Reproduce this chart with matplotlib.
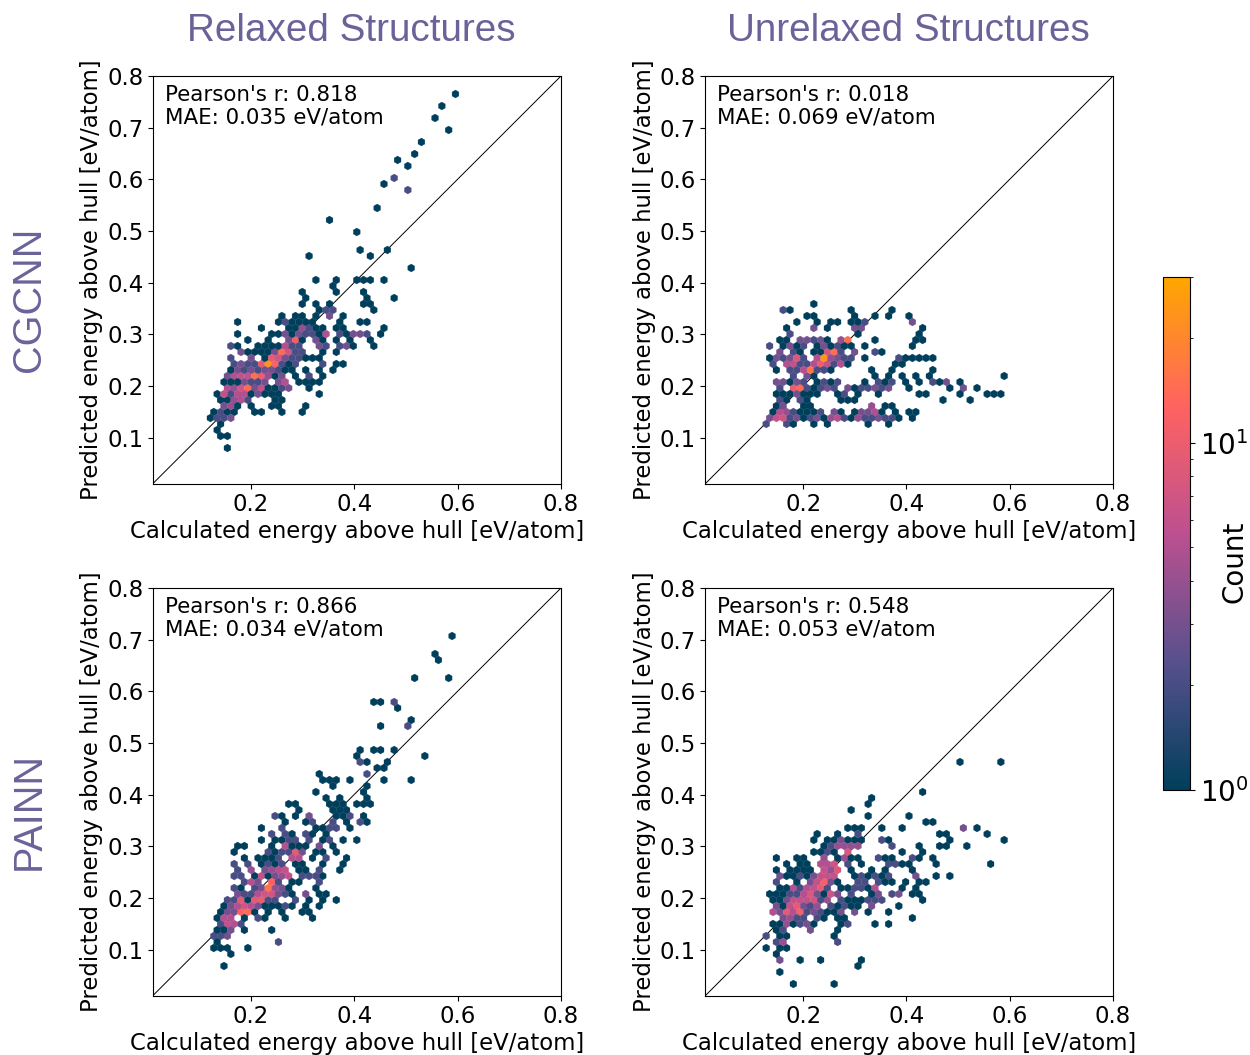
import matplotlib
matplotlib.use("Agg")
import matplotlib.pyplot as plt
import numpy as np
from matplotlib.colors import LinearSegmentedColormap, LogNorm

W, H = 1250, 1055

# hexbin cells, row by row: y of the row, x of the cells, count of the cells
cgcnn_rel_y = [.080, .103, .115, .126, .138, .149, .161, .173, .184, .196, .2075, .219, .231, .242, .254, .266, .277,
               .289, .300, .312, .324, .335, .347, .3585, .370, .382, .393, .405, .428, .4515, .463, .498, .521, .544,
               .579, .591, .603, .626, .637, .649, .672, .695, .719, .742, .765]
cgcnn_rel_x = [
    [.155], [.142, .155], [.135], [.142], [.122, .135, .148, .161],
    [.129, .142, .155, .168, .208, .221, .260, .300],
    [.148, .161, .175, .201, .240, .254, .306],
    [.142, .155, .168, .181, .194, .247, .260],
    [.135, .148, .161, .175, .188, .201, .214, .227, .240, .254, .333],
    [.155, .168, .181, .194, .208, .221, .234, .247, .260, .273, .313],
    [.148, .161, .175, .188, .201, .214, .227, .254, .267, .293, .306, .319, .333],
    [.155, .168, .181, .194, .208, .221, .234, .247, .260, .287, .313, .339],
    [.161, .175, .188, .201, .214, .227, .240, .254, .267, .280, .306, .333, .359],
    [.168, .181, .194, .208, .221, .234, .247, .260, .273, .287, .339, .366, .379],
    [.161, .201, .227, .240, .254, .267, .280, .293, .306, .319, .333],
    [.181, .194, .208, .221, .234, .247, .260, .273, .287, .300, .339, .366],
    [.161, .175, .214, .227, .240, .254, .267, .280, .293, .333, .346, .372, .385, .398, .438],
    [.194, .234, .273, .287, .300, .326, .339, .366, .392, .431],
    [.175, .240, .254, .267, .280, .293, .306, .319, .333, .346, .372, .385, .398, .412, .425, .451],
    [.221, .273, .287, .300, .313, .326, .339, .366, .379, .458],
    [.175, .254, .267, .280, .293, .306, .319, .372, .412, .425],
    [.260, .287, .300, .326, .352, .379],
    [.333, .346, .359, .438],
    [.300, .326, .352, .418, .431],
    [.306, .425, .477],
    [.300, .366, .418],
    [.359],
    [.326, .366, .405, .418, .431, .458],
    [.510], [.313, .431], [.412, .464], [.405], [.352], [.445],
    [.504], [.458], [.477], [.504], [.484], [.517], [.530], [.583], [.556], [.570], [.596],
]
cgcnn_rel_n = [
    [1], [1, 1], [1], [1], [1, 2, 2, 3],
    [1, 2, 1, 1, 1, 1, 1, 1],
    [3, 4, 1, 1, 1, 1, 1],
    [1, 1, 4, 5, 2, 1, 1],
    [1, 6, 2, 5, 5, 1, 3, 1, 1, 1, 1],
    [5, 4, 7, 14, 3, 6, 1, 1, 2, 3, 1],
    [1, 1, 1, 3, 2, 2, 3, 3, 5, 1, 1, 1, 1],
    [3, 5, 6, 6, 15, 10, 4, 1, 3, 1, 2, 1],
    [1, 3, 2, 3, 2, 3, 3, 2, 1, 1, 1, 1, 1],
    [2, 3, 2, 2, 9, 24, 12, 2, 1, 2, 2, 1, 1],
    [2, 3, 1, 9, 7, 3, 2, 2, 1, 1, 1],
    [3, 1, 1, 1, 1, 3, 14, 7, 2, 2, 1, 1],
    [2, 1, 1, 1, 1, 1, 5, 2, 2, 3, 2, 2, 3, 1, 1],
    [1, 1, 3, 11, 1, 3, 1, 1, 1, 1],
    [1, 1, 1, 3, 1, 3, 2, 2, 1, 5, 2, 1, 3, 3, 2, 1],
    [1, 1, 1, 4, 2, 1, 1, 1, 1, 1],
    [1, 1, 2, 1, 1, 1, 1, 1, 1, 1],
    [1, 1, 1, 1, 3, 1],
    [1, 2, 2, 1],
    [1, 1, 1, 1, 1],
    [1, 1, 1],
    [1, 1, 1],
    [1],
    [1, 1, 1, 1, 1, 1],
    [1], [1, 1], [1, 1], [1], [1], [1],
    [2], [1], [2], [1], [1], [1], [1], [1], [1], [1], [1],
]

cgcnn_unrel_y = [.126, .138, .149, .161, .173, .184, .196, .2075, .219, .231, .242, .254, .266, .277, .289, .300, .312,
                 .324, .335, .347, .3585]
cgcnn_unrel_x = [
    [.129, .168, .181, .221, .247, .326, .366],
    [.135, .148, .161, .175, .188, .201, .214, .227, .240, .254, .267, .280, .293, .306, .319, .333, .346, .359, .372,
     .385, .412],
    [.142, .155, .168, .181, .194, .208, .221, .234, .260, .273, .300, .313, .326, .339, .352, .379, .405, .418],
    [.148, .161, .201, .214, .333, .359, .372],
    [.155, .168, .194, .208, .273, .287, .300, .471, .524],
    [.148, .161, .175, .188, .201, .214, .227, .267, .280, .306, .346, .425, .438, .504, .556, .570, .583],
    [.155, .181, .194, .208, .221, .234, .247, .260, .287, .300, .313, .326, .339, .352, .366, .405, .484, .510, .537],
    [.148, .161, .175, .188, .201, .227, .240, .254, .267, .319, .346, .359, .372, .398, .425, .451, .464, .477, .504],
    [.181, .208, .221, .339, .366, .392, .418, .445, .589],
    [.148, .175, .188, .201, .214, .227, .240, .254, .333, .372, .451],
    [.142, .168, .181, .194, .208, .221, .234, .247, .260, .273, .287, .379, .392],
    [.135, .148, .161, .175, .188, .201, .227, .240, .254, .267, .280, .293, .319, .385, .398, .412, .425, .438, .451],
    [.155, .181, .194, .221, .234, .247, .260, .273, .300, .339, .352],
    [.135, .161, .175, .188, .201, .227, .240, .254, .267, .280, .293, .319, .412],
    [.155, .168, .194, .208, .221, .234, .247, .273, .287, .339, .418, .431],
    [.175, .306, .425],
    [.168, .221, .247, .300, .313, .431],
    [.188, .227, .254, .267, .293, .306, .319, .412],
    [.208, .221, .300, .339, .366, .405],
    [.161, .175, .293, .372],
    [.221],
]
cgcnn_unrel_n = [
    [2, 2, 1, 1, 1, 1, 1],
    [3, 6, 7, 2, 3, 1, 2, 3, 1, 4, 5, 2, 1, 4, 2, 2, 3, 2, 2, 1, 1],
    [1, 5, 4, 2, 1, 1, 1, 2, 3, 1, 1, 3, 3, 5, 1, 1, 1, 1],
    [1, 3, 1, 1, 4, 1, 1],
    [2, 1, 2, 1, 1, 1, 1, 1, 1],
    [1, 1, 1, 3, 1, 1, 1, 1, 2, 1, 1, 1, 1, 1, 1, 1, 1],
    [2, 10, 14, 2, 1, 2, 3, 2, 3, 1, 2, 2, 3, 2, 3, 1, 1, 3, 1],
    [3, 3, 1, 3, 2, 1, 2, 1, 2, 1, 2, 1, 2, 1, 1, 2, 1, 3, 1],
    [2, 3, 1, 1, 1, 1, 1, 1, 1],
    [1, 2, 2, 5, 16, 2, 2, 1, 1, 1, 1],
    [2, 5, 6, 2, 2, 5, 10, 6, 2, 5, 1, 1, 1],
    [1, 3, 2, 3, 8, 2, 5, 24, 4, 3, 2, 2, 1, 2, 1, 1, 1, 1, 1],
    [3, 2, 1, 1, 1, 7, 15, 2, 3, 2, 1],
    [2, 1, 3, 1, 2, 1, 3, 1, 2, 1, 1, 1, 1],
    [1, 1, 3, 3, 2, 3, 1, 4, 15, 1, 1, 1],
    [2, 1, 1],
    [1, 3, 1, 3, 3, 1],
    [1, 1, 1, 1, 1, 1, 2, 3],
    [1, 1, 1, 1, 1, 1],
    [2, 1, 1, 1],
    [1],
]

painn_rel_y = [.068, .091, .103, .115, .126, .138, .149, .161, .173, .184, .196, .2075, .219, .231, .242, .254, .266,
               .277, .289, .300, .312, .324, .335, .347, .3585, .370, .382, .393, .405, .417, .428, .440, .4515, .463,
               .475, .486, .533, .544, .568, .579, .626, .661, .672, .707]
painn_rel_x = [
    [.148], [.161], [.129, .142, .155, .194], [.135, .254], [.129, .142, .155],
    [.135, .148, .161, .188, .240],
    [.142, .155, .168, .181],
    [.135, .148, .161, .188, .214, .227, .267, .319],
    [.142, .155, .168, .181, .194, .208, .234, .260, .300, .313],
    [.148, .161, .175, .188, .201, .214, .227, .240, .254, .267, .280, .306, .333],
    [.155, .168, .181, .194, .208, .221, .234, .247, .287, .313, .339, .366],
    [.175, .188, .201, .214, .227, .240, .254, .267, .280, .306, .333, .346],
    [.168, .181, .208, .221, .234, .247, .260, .273, .326],
    [.188, .201, .214, .240, .254, .280, .293, .333],
    [.168, .181, .208, .221, .234, .247, .260, .273, .300, .313, .326, .339],
    [.175, .201, .227, .240, .254, .267, .293, .306, .333, .372],
    [.168, .194, .221, .234, .247, .260, .287, .300, .339, .379],
    [.188, .214, .227, .240, .254, .280, .293, .319, .346, .385],
    [.168, .234, .247, .260, .273, .287, .300, .326, .339, .366],
    [.175, .188, .240, .267, .280, .293, .306, .333, .359],
    [.221, .247, .260, .273, .287, .313, .339, .352, .379, .405],
    [.240, .267, .280, .306, .319, .346],
    [.221, .260, .326, .339, .352, .366, .392],
    [.267, .306, .319, .359, .385, .412, .425],
    [.247, .260, .287, .313, .366, .379, .392, .418],
    [.293, .359, .372, .385],
    [.273, .287, .352, .366, .379, .405, .418, .431],
    [.346, .372, .425],
    [.326, .418],
    [.359, .425],
    [.339, .352, .366, .392, .458, .510],
    [.333, .425],
    [.445, .458],
    [.412, .425, .464],
    [.405, .537],
    [.412, .438, .451, .477],
    [.451, .504], [.510], [.484], [.438, .451, .477], [.517, .583], [.563], [.556], [.589],
]
painn_rel_n = [
    [1], [1], [1, 1, 1, 1], [1, 2], [2, 2, 3],
    [1, 1, 3, 1, 1],
    [2, 6, 5, 2],
    [1, 5, 5, 1, 2, 1, 1, 1],
    [1, 3, 3, 12, 14, 1, 1, 1, 1, 1],
    [1, 3, 5, 7, 5, 3, 1, 1, 1, 2, 1, 1, 1],
    [2, 2, 9, 1, 9, 10, 2, 2, 2, 1, 1, 1],
    [3, 2, 2, 5, 7, 7, 3, 2, 1, 3, 1, 1],
    [2, 1, 2, 3, 16, 4, 3, 1, 1],
    [2, 5, 3, 12, 2, 1, 1, 2],
    [2, 2, 1, 6, 1, 3, 4, 6, 2, 2, 2, 1],
    [2, 4, 3, 4, 5, 6, 1, 1, 2, 1],
    [2, 2, 1, 2, 1, 2, 1, 1, 1, 1],
    [1, 1, 1, 1, 2, 5, 5, 1, 2, 1],
    [1, 2, 1, 2, 2, 9, 3, 1, 1, 1],
    [1, 1, 1, 5, 1, 1, 1, 3, 1],
    [1, 1, 1, 2, 2, 2, 1, 2, 1, 1],
    [2, 2, 1, 2, 1, 1],
    [1, 2, 1, 1, 2, 2, 1],
    [1, 1, 2, 2, 1, 2, 1],
    [2, 1, 1, 3, 1, 1, 2, 1],
    [1, 1, 1, 1],
    [1, 1, 1, 1, 1, 1, 1, 1],
    [1, 1, 1],
    [1, 1],
    [1, 1],
    [1, 1, 1, 1, 1, 1],
    [1, 2],
    [1, 1],
    [2, 1, 1],
    [1, 1],
    [1, 1, 1, 1],
    [1, 2], [1], [1], [1, 1, 2], [1, 1], [1], [1], [1],
]

painn_unrel_y = [.033, .056, .068, .080, .091, .103, .115, .126, .138, .149, .161, .173, .184, .196, .2075, .219, .231,
                 .242, .254, .266, .277, .289, .300, .312, .324, .335, .347, .3585, .370, .382, .393, .405, .463]
painn_unrel_x = [
    [.181, .260], [.155], [.306], [.155, .194, .234, .313], [.148], [.129, .155, .168], [.148, .161, .267],
    [.129, .155, .168, .260],
    [.148, .161, .214, .267],
    [.142, .155, .168, .181, .194, .208, .221, .273, .287, .339, .366],
    [.161, .175, .188, .201, .227, .240, .267, .280, .412],
    [.142, .155, .168, .181, .194, .208, .221, .234, .247, .260, .273, .300, .326, .366],
    [.148, .161, .175, .188, .201, .214, .227, .254, .267, .280, .293, .306, .333, .385],
    [.142, .155, .168, .181, .194, .208, .221, .234, .247, .273, .287, .300, .313, .326, .339, .352, .431],
    [.135, .148, .161, .175, .188, .201, .214, .227, .240, .254, .267, .293, .333, .346, .372, .385, .412, .425],
    [.155, .168, .181, .194, .208, .221, .234, .247, .273, .287, .300, .313, .326, .339, .392, .418],
    [.148, .188, .214, .227, .240, .254, .267, .306, .319, .346, .359, .372, .398, .425, .438],
    [.155, .168, .181, .194, .208, .221, .234, .247, .260, .300, .313, .326, .339, .352, .366, .418, .458, .484],
    [.148, .175, .188, .201, .214, .240, .254, .267, .293, .333, .359, .412],
    [.168, .194, .208, .234, .247, .260, .287, .313, .366, .379, .392, .405, .458, .563],
    [.148, .188, .201, .240, .267, .280, .293, .306, .346, .359, .372, .412, .425, .451],
    [.221, .234, .247, .260, .287, .392, .431],
    [.240, .254, .267, .280, .293, .306, .372, .425, .464, .477, .517],
    [.221, .247, .260, .273, .287, .300, .313, .352, .366, .484, .589],
    [.227, .267, .306, .464, .477, .556],
    [.287, .300, .313, .352, .392, .510, .537],
    [.438, .451],
    [.326, .405],
    [.293], [.326], [.333], [.431], [.504, .583],
]
painn_unrel_n = [
    [1, 1], [1], [1], [3, 1, 1, 1], [1], [1, 1, 1], [2, 4, 2],
    [2, 1, 1, 1],
    [1, 2, 3, 1],
    [1, 1, 4, 1, 2, 3, 1, 1, 2, 1, 1],
    [3, 4, 2, 2, 2, 1, 1, 1, 1],
    [5, 3, 9, 5, 11, 2, 3, 2, 1, 1, 3, 3, 1, 1],
    [3, 1, 6, 9, 3, 2, 4, 2, 1, 2, 1, 1, 3, 1],
    [1, 1, 3, 6, 6, 6, 7, 2, 4, 2, 1, 1, 1, 2, 2, 2, 1],
    [1, 1, 1, 2, 2, 5, 8, 3, 1, 7, 3, 2, 1, 3, 2, 3, 1, 1],
    [1, 1, 5, 2, 5, 6, 9, 2, 1, 1, 2, 2, 1, 5, 1, 1],
    [2, 1, 3, 6, 11, 3, 1, 2, 2, 2, 1, 1, 1, 1, 1],
    [3, 1, 1, 2, 1, 3, 6, 6, 6, 1, 2, 1, 2, 1, 2, 3, 1, 1],
    [1, 1, 1, 1, 1, 6, 4, 8, 1, 1, 1, 1],
    [1, 1, 1, 5, 5, 7, 2, 1, 2, 2, 1, 1, 1, 1],
    [1, 1, 1, 4, 1, 4, 1, 1, 2, 1, 1, 2, 1, 1],
    [1, 1, 2, 1, 8, 1, 1],
    [1, 2, 4, 4, 4, 4, 2, 1, 1, 1, 1],
    [1, 1, 1, 3, 1, 1, 1, 2, 1, 1, 1],
    [1, 1, 2, 1, 1, 1],
    [1, 1, 1, 1, 1, 3, 1],
    [1, 1],
    [1, 1],
    [1], [1], [1], [1], [1, 1],
]

pearson = [0.818, 0.018, 0.866, 0.548]
mae = [0.035, 0.069, 0.034, 0.053]

palette = ["#003f5c", "#58508d", "#bc5090", "#ff6361", "#ffa600"]
title_color = "#6a6399"

cmap = LinearSegmentedColormap.from_list("hull", palette)
norm = LogNorm(vmin=1, vmax=30)


def axes_box(left, top, right, bottom):
    return [left / W, 1 - bottom / H, (right - left) / W, (bottom - top) / H]


def flatten(row_y, row_x, row_n):
    xs, ys, ns = [], [], []
    for y, cells, counts in zip(row_y, row_x, row_n):
        xs += cells
        ys += [y] * len(cells)
        ns += counts
    return xs, ys, ns


fig = plt.figure(figsize=(W / 100, H / 100), dpi=100)
boxes = [(152.5, 76, 561, 484), (705, 76, 1113, 484), (152.5, 588, 561, 996), (705, 588, 1113, 996)]
panels = [(cgcnn_rel_y, cgcnn_rel_x, cgcnn_rel_n), (cgcnn_unrel_y, cgcnn_unrel_x, cgcnn_unrel_n),
          (painn_rel_y, painn_rel_x, painn_rel_n), (painn_unrel_y, painn_unrel_x, painn_unrel_n)]

for box, panel, r, m in zip(boxes, panels, pearson, mae):
    ax = fig.add_axes(axes_box(*box))
    x, y, n = flatten(*panel)
    hb = ax.hexbin(x, y, C=n, reduce_C_function=np.sum, gridsize=60, extent=(0.01, 0.8, 0.01, 0.8),
                   cmap=cmap, norm=norm, linewidths=0.2, zorder=2)
    # the diagonal runs under the hexagons
    ax.plot([0.01, 0.8], [0.01, 0.8], color="black", lw=0.7, zorder=1)
    ax.set_xlim(0.01, 0.8)
    ax.set_ylim(0.01, 0.8)
    ax.set_xticks([0.2, 0.4, 0.6, 0.8])
    ax.set_yticks([0.1, 0.2, 0.3, 0.4, 0.5, 0.6, 0.7, 0.8])
    ax.tick_params(labelsize=16.4, pad=3)
    ax.set_xlabel("Calculated energy above hull [eV/atom]", fontsize=16.4, labelpad=3)
    ax.set_ylabel("Predicted energy above hull [eV/atom]", fontsize=16.4, labelpad=3)
    ax.text(0.03, 0.978, f"Pearson's r: {r:.3f}\nMAE: {m:.3f} eV/atom", transform=ax.transAxes,
            va="top", ha="left", fontsize=15.4, linespacing=1.18)

fig.text(351.5 / W, 1 - 31 / H, "Relaxed Structures", family="Liberation Sans", fontsize=27.8, color=title_color,
         ha="center", va="center")
fig.text(908.5 / W, 1 - 31 / H, "Unrelaxed Structures", family="Liberation Sans", fontsize=27.8, color=title_color,
         ha="center", va="center")
fig.text(29 / W, 1 - 299 / H, "CGCNN", family="Liberation Sans", fontsize=28.5, color=title_color, rotation=90,
         ha="center", va="center")
fig.text(29 / W, 1 - 811 / H, "PAINN", family="Liberation Sans", fontsize=28.5, color=title_color, rotation=90,
         ha="center", va="center")

cax = fig.add_axes(axes_box(1163, 277, 1190, 790))
cb = fig.colorbar(hb, cax=cax)
cb.ax.tick_params(labelsize=20)
cb.set_label("Count", fontsize=20)
cb.ax.yaxis.set_label_coords((1220 - 1163) / 27, 0.445)

fig.savefig("out.png", dpi=100)
